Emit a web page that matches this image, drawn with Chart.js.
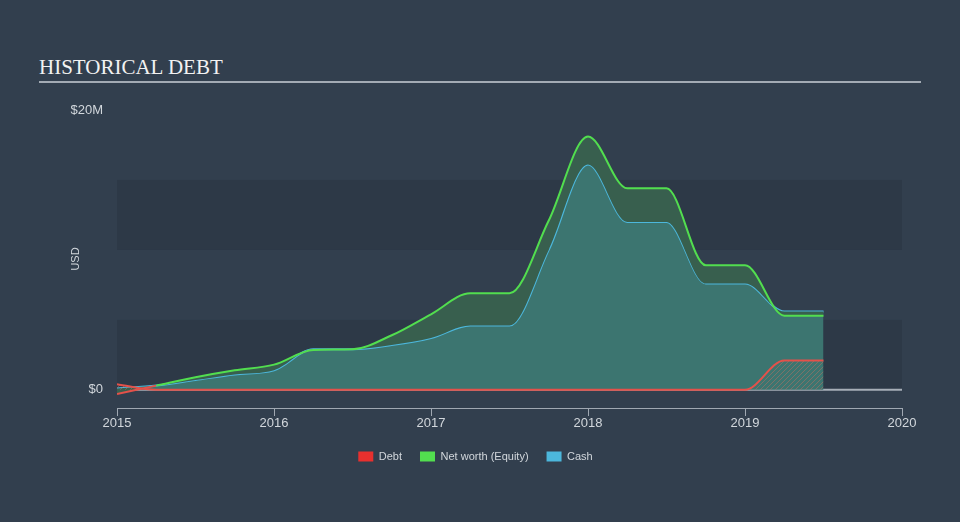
<!DOCTYPE html>
<html>
<head>
<meta charset="utf-8">
<script src="https://cdn.jsdelivr.net/npm/chart.js@4/dist/chart.umd.min.js"></script>
<style>
  html, body { margin: 0; padding: 0; }
  body { width: 960px; height: 522px; background: #323f4e; position: relative; overflow: hidden; }
  #title { position: absolute; left: 39px; top: 55px; font: 21px "Liberation Serif", "Times New Roman", serif; color: #f2f2f2; }
  #rule { position: absolute; left: 39px; top: 81px; width: 882px; height: 2px; background: #a3abb4; }
  #chart { position: absolute; left: 0; top: 0; }
</style>
</head>
<body>
<div id="title">HISTORICAL DEBT</div>
<div id="rule"></div>
<canvas id="chart" width="960" height="522"></canvas>
<script>
// Quarterly points, values in $M
const years = [2015, 2015.25, 2015.5, 2015.75, 2016, 2016.25, 2016.5, 2016.75, 2017, 2017.25, 2017.5, 2017.75, 2018, 2018.25, 2018.5, 2018.75, 2019, 2019.25, 2019.5];
const debt = [0.4, 0, 0, 0, 0, 0, 0, 0, 0, 0, 0, 0, 0, 0, 0, 0, 0, 2.1, 2.1];
const equity = [-0.3, 0.3, 0.9, 1.4, 1.8, 2.85, 2.9, 3.9, 5.4, 6.9, 6.9, 12.1, 18.1, 14.4, 14.4, 8.9, 8.9, 5.3, 5.3];
const cash = [0.1, 0.3, 0.7, 1.1, 1.4, 2.9, 2.9, 3.2, 3.7, 4.6, 4.6, 10.0, 16.1, 12.0, 12.0, 7.6, 7.6, 5.6, 5.6];
const yTicks = [0, 20];
const bands = [[0, 5], [10, 15]];

const colors = {
  debt: '#e4514a',
  equity: '#52de4f',
  cash: '#4cb7dc',
  equityFill: '#385f4e',
  cashFill: '#3c7570',
  band: '#2d3947',
  zero: '#a7afb8',
  text: '#d2d7dc',
  axis: '#a0a8b2',
};
const font = '"Liberation Sans", Arial, sans-serif';

const toPoints = (arr) => years.map((x, i) => ({ x, y: arr[i] }));

function hatch(color) {
  const c = document.createElement('canvas');
  c.width = 5; c.height = 5;
  const g = c.getContext('2d');
  g.strokeStyle = color;
  g.lineWidth = 1;
  g.beginPath();
  g.moveTo(0, 5); g.lineTo(5, 0);
  g.moveTo(-1, 1); g.lineTo(1, -1);
  g.moveTo(4, 6); g.lineTo(6, 4);
  g.stroke();
  return g.createPattern(c, 'repeat');
}

// bands + zero line behind the data
const backdrop = {
  id: 'backdrop',
  beforeDatasetsDraw(chart) {
    const { ctx, chartArea: a, scales: { y } } = chart;
    ctx.save();
    ctx.fillStyle = colors.band;
    bands.forEach(([lo, hi]) => {
      const top = y.getPixelForValue(hi), bot = y.getPixelForValue(lo);
      ctx.fillRect(a.left, top, a.right - a.left, bot - top);
    });
    const z = y.getPixelForValue(0);
    ctx.strokeStyle = colors.zero;
    ctx.lineWidth = 2;
    ctx.beginPath();
    ctx.moveTo(a.left, z); ctx.lineTo(a.right, z);
    ctx.stroke();
    ctx.restore();
  }
};

const legendColors = ['#e8302e', '#52de4f', '#4cb7dc'];

new Chart(document.getElementById('chart'), {
  type: 'line',
  data: {
    datasets: [
      {
        label: 'Debt',
        data: toPoints(debt),
        borderColor: colors.debt,
        backgroundColor: hatch('rgba(200,110,95,0.45)'),
        fill: 'origin',
        borderWidth: 2,
      },
      {
        label: 'Net worth (Equity)',
        data: toPoints(equity),
        borderColor: colors.equity,
        backgroundColor: colors.equityFill,
        fill: '+1',
        borderWidth: 2,
        segment: {
          borderColor: (c) => (c.p0.parsed.y < 0 ? colors.debt : undefined),
        },
      },
      {
        label: 'Cash',
        data: toPoints(cash),
        borderColor: colors.cash,
        backgroundColor: colors.cashFill,
        fill: 'origin',
        borderWidth: 2,
      },
    ]
  },
  options: {
    responsive: false,
    animation: false,
    layout: { padding: { left: 49, right: 58, top: 110, bottom: 50 } },
    elements: {
      point: { radius: 0, hoverRadius: 0 },
      line: { cubicInterpolationMode: 'monotone' },
    },
    plugins: {
      tooltip: { enabled: false },
      legend: {
        position: 'bottom',
        labels: {
          color: colors.text,
          font: { family: font, size: 11 },
          boxWidth: 15,
          boxHeight: 10,
          padding: 18,
          generateLabels: (chart) => chart.data.datasets.map((d, i) => ({
            text: d.label,
            fillStyle: legendColors[i],
            strokeStyle: legendColors[i],
            lineWidth: 0,
            fontColor: colors.text,
            datasetIndex: i,
            hidden: false,
          })),
        },
      },
    },
    scales: {
      x: {
        type: 'linear',
        min: 2015,
        max: 2020,
        afterFit: (s) => { s.height = 25; },
        ticks: {
          stepSize: 1,
          color: colors.text,
          padding: 0,
          font: { family: font, size: 13 },
          callback: (v) => String(v),
        },
        grid: { drawOnChartArea: false, drawTicks: true, tickLength: 8, color: colors.axis, lineWidth: 1 },
        border: { display: true, color: colors.axis, width: 1 },
      },
      y: {
        min: -1.3,
        max: 20,
        afterFit: (s) => { s.width = 68; },
        afterBuildTicks: (s) => { s.ticks = yTicks.map((v) => ({ value: v })); },
        title: {
          display: true,
          text: 'USD',
          color: colors.text,
          padding: { top: 20, bottom: 0 },
          font: { family: font, size: 11 },
        },
        ticks: {
          color: colors.text,
          padding: 14,
          font: { family: font, size: 13 },
          callback: (v) => (v === 0 ? '$0' : '$' + v + 'M'),
        },
        grid: { display: false, drawTicks: false },
        border: { display: false },
      },
    },
  },
  plugins: [backdrop],
});
</script>
</body>
</html>
